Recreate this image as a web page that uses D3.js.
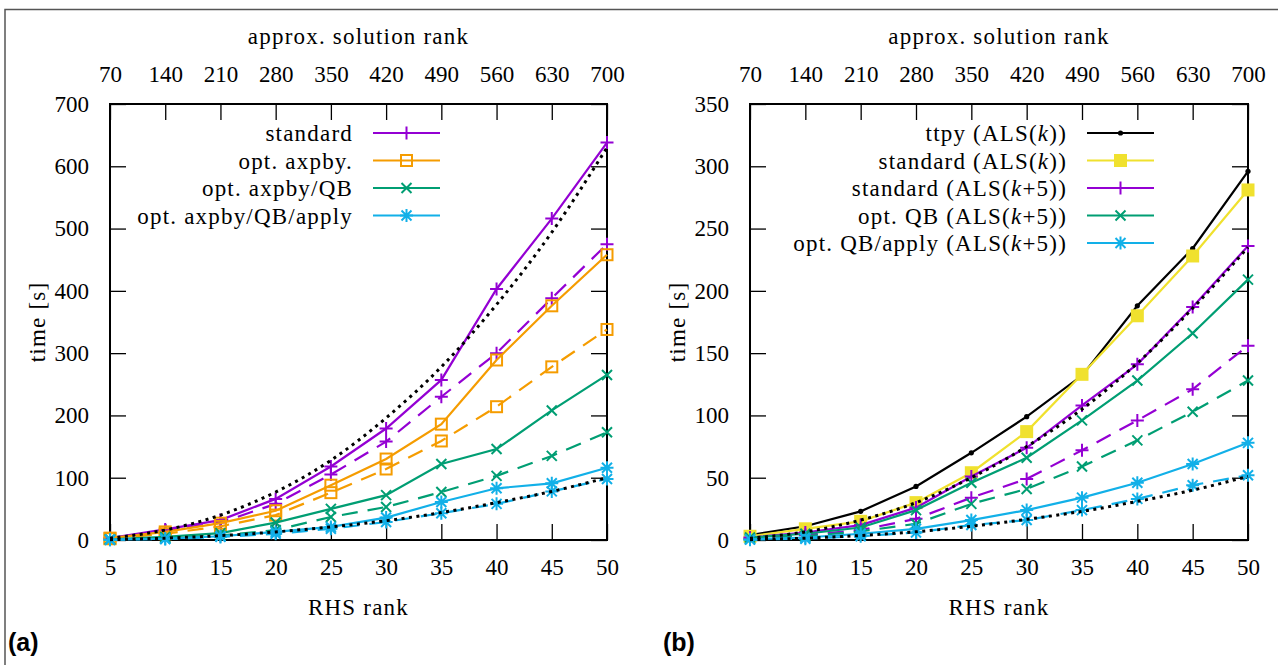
<!DOCTYPE html>
<html>
<head>
<meta charset="utf-8">
<script src="https://cdn.jsdelivr.net/npm/d3@7/dist/d3.min.js"></script>
<style>
body { margin: 0; background: #fff; }
svg text { font-family: "Liberation Serif", "Times New Roman", serif; font-size: 23px; fill: #000; }
.word { letter-spacing: 1.2px; }
</style>
</head>
<body>
<div id="chart"></div>
<script>
// RHS rank (bottom axis) and approx. solution rank (top axis labels)
var rhsRank = [5, 10, 15, 20, 25, 30, 35, 40, 45, 50];
var solRank = [70, 140, 210, 280, 350, 420, 490, 560, 630, 700];

// panel (a) - solid and dashed runs
var aStandard  = [3, 17, 32, 66, 118, 179, 257, 403, 516, 638];
var aStandardD = [2, 15, 28, 58, 105, 158, 230, 300, 388, 475];
var aAxpby     = [3, 13, 27, 47, 88, 130, 186, 289, 376, 458];
var aAxpbyD    = [2, 10, 22, 40, 76, 114, 159, 214, 278, 338];
var aQB        = [1, 5, 11, 28, 50, 72, 122, 146, 208, 265];
var aQBD       = [1, 3, 7, 16, 37, 53, 77, 103, 135, 173];
var aApply     = [0.5, 2, 6, 13, 21, 36, 61, 83, 91, 116];
var aApplyD    = [0.3, 1.5, 5, 10, 18, 29, 43, 58, 78, 98];
var aRefHi     = [3, 16, 40, 77, 128, 196, 278, 378, 494, 630];
var aRefLo     = [0.6, 3, 7, 13, 21, 31, 44, 60, 78, 100];

// panel (b)
var bTtpy      = [4, 11, 23, 43, 70, 99, 132, 188, 234, 296];
var bStdK      = [3, 9, 15, 30, 54, 87, 133, 180, 228, 281];
var bStd       = [2, 6, 12, 26, 51, 74, 108, 141, 187, 236];
var bStdD      = [1, 4, 8, 17, 34, 49, 72, 96, 121, 156];
var bQB        = [2, 5, 10, 24, 46, 66, 96, 128, 166, 209];
var bQBD       = [1, 3, 7, 13, 29, 41, 59, 80, 103, 128];
var bApply     = [0.5, 2, 5, 9, 16, 24, 34, 46, 61, 78];
var bApplyD    = [0.3, 1, 3, 6, 12, 16, 24, 33, 44, 52];
var bRefHi     = [1.4, 6.5, 16, 30, 50, 75, 105, 142, 186, 235];
var bRefLo     = [0.3, 1.5, 3.6, 6.6, 11, 16.6, 23, 31, 40, 51];

var purple = "#9400d3", orange = "#f59c00", green = "#009e73",
    cyan = "#12b0e8", yellow = "#f0e12e", black = "#000";

var W = 1278, H = 665;

var svg = d3.select("#chart").append("svg")
    .attr("width", W)
    .attr("height", H);

// figure frame (top and left only)
svg.append("path")
    .attr("d", "M5,665V9.5H1278")
    .attr("fill", "none")
    .attr("stroke", "#555")
    .attr("stroke-width", 1.5);

function markerPath(type) {
    if (type == "plus") return "M-6.5,0H6.5M0,-6.5V6.5";
    if (type == "cross") return "M-5,-5L5,5M-5,5L5,-5";
    if (type == "star") return "M-6.5,0H6.5M0,-6.5V6.5M-5,-5L5,5M-5,5L5,-5";
    return null;
}

function drawMarker(g, type, color, x, y) {
    if (type == "square") {
        g.append("rect").attr("x", x - 5.5).attr("y", y - 5.5)
            .attr("width", 11).attr("height", 11)
            .attr("fill", "none").attr("stroke", color).attr("stroke-width", 2);
    } else if (type == "fsquare") {
        g.append("rect").attr("x", x - 6.5).attr("y", y - 6.5)
            .attr("width", 13).attr("height", 13)
            .attr("fill", color);
    } else if (type == "dot") {
        g.append("circle").attr("cx", x).attr("cy", y).attr("r", 2.6).attr("fill", color);
    } else if (type) {
        g.append("path").attr("d", markerPath(type))
            .attr("transform", "translate(" + x + "," + y + ")")
            .attr("fill", "none").attr("stroke", color).attr("stroke-width", 2);
    }
}

function dashOf(style) {
    if (style == "dash") return "16,10";
    if (style == "dot") return "3,4.5";
    return null;
}

function drawPanel(p) {
    var x = d3.scaleLinear().domain([5, 50]).range([p.x0, p.x1]);
    var y = d3.scaleLinear().domain([0, p.yMax]).range([540, 104]);
    var top = d3.scaleLinear().domain([70, 700]).range([p.x0, p.x1]);
    var g = svg.append("g");

    // axes with inward ticks on all four sides
    var tl = 16;
    g.append("g").attr("transform", "translate(0,540)")
        .call(d3.axisBottom(x).tickValues(rhsRank).tickSize(-tl).tickPadding(tl + 3));
    g.append("g").attr("transform", "translate(0,104)")
        .call(d3.axisTop(top).tickValues(solRank).tickSize(-tl).tickPadding(tl + 6));
    g.append("g").attr("transform", "translate(" + p.x0 + ",0)")
        .call(d3.axisLeft(y).ticks(7).tickSize(-tl).tickPadding(tl + 5));
    g.append("g").attr("transform", "translate(" + p.x1 + ",0)")
        .call(d3.axisRight(y).ticks(7).tickSize(-tl).tickFormat(""));
    g.selectAll(".domain").remove();
    g.selectAll(".tick line").attr("stroke", "#000").attr("stroke-width", 1.3);
    g.selectAll(".tick text").style("font-family", "Liberation Serif").style("font-size", "23px");

    g.append("rect")
        .attr("x", p.x0).attr("y", 104)
        .attr("width", p.x1 - p.x0).attr("height", 436)
        .attr("fill", "none").attr("stroke", "#000").attr("stroke-width", 2);

    // axis titles
    var cx = (p.x0 + p.x1) / 2;
    svg.append("text").attr("class", "word").attr("x", cx).attr("y", 36).attr("dy", "0.35em")
        .attr("text-anchor", "middle").text("approx. solution rank");
    svg.append("text").attr("class", "word").attr("x", cx).attr("y", 607).attr("dy", "0.35em")
        .attr("text-anchor", "middle").text("RHS rank");
    svg.append("text").attr("class", "word")
        .attr("transform", "translate(" + (p.x0 - 73) + ",322) rotate(-90)")
        .attr("dy", "0.35em").attr("text-anchor", "middle").text("time [s]");

    // series
    var line = d3.line().x(function (d, i) { return x(rhsRank[i]); }).y(function (d) { return y(d); });
    var smooth = d3.line().curve(d3.curveMonotoneX)
        .x(function (d, i) { return x(rhsRank[i]); }).y(function (d) { return y(d); });

    p.series.forEach(function (s) {
        g.append("path")
            .attr("d", s.style == "dot" ? smooth(s.vals) : line(s.vals))
            .attr("fill", "none")
            .attr("stroke", s.color)
            .attr("stroke-width", s.style == "dot" ? 3 : 2.2)
            .attr("stroke-dasharray", dashOf(s.style));
        if (s.marker) {
            s.vals.forEach(function (v, i) {
                drawMarker(g, s.marker, s.color, x(rhsRank[i]), y(v));
            });
        }
    });

    // legend
    var lg = svg.append("g");
    p.series.filter(function (s) { return s.label; }).forEach(function (s, i) {
        var ly = 133 + i * 27.5;
        var t = lg.append("text").attr("class", "word")
            .attr("x", p.legX).attr("y", ly).attr("dy", "0.35em")
            .attr("text-anchor", "end");
        s.label.forEach(function (part) {
            var ts = t.append("tspan").text(part[0]);
            if (part[1]) ts.style("font-style", "italic");
        });
        lg.append("line")
            .attr("x1", p.legX + 20).attr("x2", p.legX + 87)
            .attr("y1", ly).attr("y2", ly)
            .attr("stroke", s.color).attr("stroke-width", 2.2);
        drawMarker(lg, s.marker, s.color, p.legX + 53.5, ly);
    });

    svg.append("text")
        .attr("x", p.tagX).attr("y", 651)
        .style("font-family", "Liberation Sans, Arial, sans-serif")
        .style("font-size", "25px").style("font-weight", "bold")
        .text(p.tag);
}

drawPanel({
    x0: 110, x1: 607, yMax: 700, legX: 353, tagX: 8, tag: "(a)",
    series: [
        { vals: aStandard, color: purple, marker: "plus", label: [["standard"]] },
        { vals: aStandardD, color: purple, marker: "plus", style: "dash" },
        { vals: aAxpby, color: orange, marker: "square", label: [["opt. axpby."]] },
        { vals: aAxpbyD, color: orange, marker: "square", style: "dash" },
        { vals: aQB, color: green, marker: "cross", label: [["opt. axpby/QB"]] },
        { vals: aQBD, color: green, marker: "cross", style: "dash" },
        { vals: aApply, color: cyan, marker: "star", label: [["opt. axpby/QB/apply"]] },
        { vals: aApplyD, color: cyan, marker: "star", style: "dash" },
        { vals: aRefHi, color: black, style: "dot" },
        { vals: aRefLo, color: black, style: "dot" }
    ]
});

drawPanel({
    x0: 750, x1: 1248, yMax: 350, legX: 1067, tagX: 663, tag: "(b)",
    series: [
        { vals: bTtpy, color: black, marker: "dot", label: [["ttpy (ALS("], ["k", true], ["))"]] },
        { vals: bStdK, color: yellow, marker: "fsquare", label: [["standard (ALS("], ["k", true], ["))"]] },
        { vals: bStd, color: purple, marker: "plus", label: [["standard (ALS("], ["k", true], ["+5))"]] },
        { vals: bStdD, color: purple, marker: "plus", style: "dash" },
        { vals: bQB, color: green, marker: "cross", label: [["opt. QB (ALS("], ["k", true], ["+5))"]] },
        { vals: bQBD, color: green, marker: "cross", style: "dash" },
        { vals: bApply, color: cyan, marker: "star", label: [["opt. QB/apply (ALS("], ["k", true], ["+5))"]] },
        { vals: bApplyD, color: cyan, marker: "star", style: "dash" },
        { vals: bRefHi, color: black, style: "dot" },
        { vals: bRefLo, color: black, style: "dot" }
    ]
});
</script>
</body>
</html>
